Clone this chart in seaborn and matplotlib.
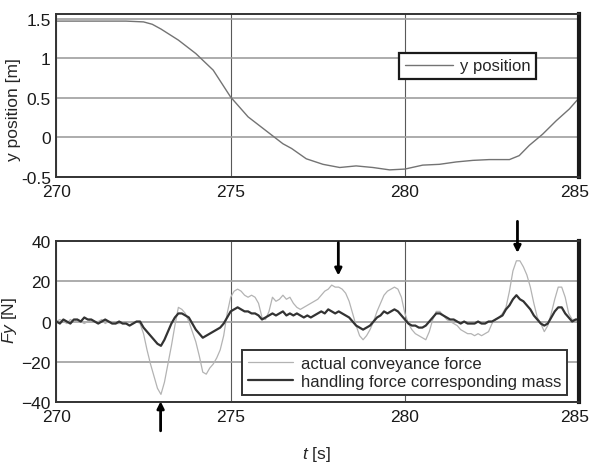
import numpy as np
import pandas as pd
import matplotlib
matplotlib.use("Agg")
import matplotlib.pyplot as plt
from matplotlib.transforms import ScaledTranslation
import seaborn as sns

# y position of the carried load [m]
pos_t = [270, 271, 272, 272.5, 272.75, 273, 273.5, 274, 274.5, 275, 275.5, 276,
         276.5, 276.75, 277.17, 277.65, 278.13, 278.6, 279.08, 279.56, 280,
         280.51, 280.99, 281.47, 281.95, 282.42, 283, 283.28, 283.57, 283.95,
         284.34, 284.72, 285]
pos_y = [1.47, 1.47, 1.47, 1.46, 1.43, 1.37, 1.23, 1.06, 0.85, 0.51, 0.26, 0.09,
         -0.08, -0.14, -0.27, -0.34, -0.38, -0.36, -0.38, -0.41, -0.40,
         -0.35, -0.34, -0.31, -0.29, -0.28, -0.28, -0.23, -0.10, 0.04,
         0.21, 0.36, 0.50]

# forces sampled every 0.1 s from 270 to 285 s
force_t = np.linspace(270, 285, 151)
actual_force = [
    0, 1, 0, -1, 1, 0, 1, 0, -1, 0,
    1, 0, 0, 1, -1, 0, 0, -1, -1, 0,
    -1, 0, -1, 0, -1, -6, -14, -21, -27, -33,
    -36, -30, -21, -12, -2, 7, 6, 4, 0, -5,
    -10, -17, -25, -26, -23, -21, -18, -14, -7, 4,
    12, 15, 16, 15, 13, 12, 13, 12, 9, 2,
    1, 5, 12, 10, 11, 13, 11, 12, 9, 7,
    6, 7, 8, 9, 10, 11, 13, 15, 16, 18,
    17, 17, 16, 14, 10, 4, -2, -7, -9, -7,
    -4, 0, 5, 9, 13, 15, 16, 17, 16, 12,
    4, -1, -4, -6, -7, -8, -9, -5, 1, 5,
    5, 3, 1, 0, -1, -2, -4, -5, -6, -6,
    -7, -6, -7, -6, -5, -1, 1, 2, 4, 7,
    15, 25, 30, 30, 27, 23, 17, 9, 2, -1,
    -5, -2, 4, 11, 17, 17, 12, 4, 1, 1,
    1]
handling_force = [
    0, -1, 1, 0, -1, 1, 1, 0, 2, 1,
    1, 0, -1, 0, 1, 0, -1, -1, 0, -1,
    -1, -2, -1, 0, 0, -3, -5, -7, -9, -11,
    -12, -9, -5, -1, 2, 4, 4, 3, 2, -1,
    -4, -6, -8, -7, -6, -5, -4, -3, -1, 2,
    5, 6, 7, 6, 5, 5, 4, 4, 3, 1,
    2, 3, 4, 3, 4, 5, 3, 4, 3, 4,
    3, 2, 3, 2, 3, 4, 5, 4, 6, 5,
    4, 5, 4, 3, 2, 0, -2, -3, -4, -3,
    -2, 0, 2, 3, 5, 4, 5, 6, 5, 3,
    1, -1, -2, -2, -3, -3, -2, 0, 2, 4,
    4, 3, 2, 1, 1, 0, -1, 0, -1, -1,
    -1, 0, -1, -1, 0, 0, 1, 2, 3, 6,
    8, 11, 13, 11, 10, 8, 6, 3, 1, -1,
    -2, -1, 2, 5, 7, 7, 4, 2, 0, 1,
    1]

# arrows marking the force peaks: (t, tail, tip)
arrows = [(272.99, -54, -39.4), (278.09, 39, 22.7), (283.23, 49.5, 33.9)]

sns.set_theme(style="white")
plt.rcParams["font.family"] = ["Liberation Sans", "DejaVu Sans"]
plt.rcParams["mathtext.fontset"] = "custom"
plt.rcParams["mathtext.it"] = "Liberation Sans:italic"
plt.rcParams["mathtext.rm"] = "Liberation Sans"

fig = plt.figure(figsize=(5.9, 4.64), dpi=100)
ax1 = fig.add_axes([0.0956, 0.6164, 0.886, 0.3513])
ax2 = fig.add_axes([0.0956, 0.1304, 0.886, 0.349])

pos = pd.DataFrame({"t": pos_t, "y": pos_y})
sns.lineplot(data=pos, x="t", y="y", ax=ax1, color="0.45", lw=1.0,
             label="y position")

forces = pd.DataFrame({"t": force_t, "actual": actual_force,
                       "handling": handling_force})
sns.lineplot(data=forces, x="t", y="actual", ax=ax2, color="0.7", lw=0.9,
             label="actual conveyance force")
sns.lineplot(data=forces, x="t", y="handling", ax=ax2, color="0.2", lw=1.6,
             label="handling force corresponding mass")

ax1.set_ylim(-0.5, 1.56)
ax1.set_yticks([-0.5, 0, 0.5, 1, 1.5])
ax1.set_yticklabels(["-0.5", "0", "0.5", "1", "1.5"])
ax1.set_ylabel("y position [m]", fontsize=12.5)
ax1.yaxis.set_label_coords(-0.068, 0.42)
ax1.set_xlabel("")
ax2.set_ylim(-40, 40)
ax2.set_yticks([-40, -20, 0, 20, 40])
ax2.set_ylabel("$Fy$ [N]", fontsize=12.5)
ax2.yaxis.set_label_coords(-0.072, 0.51)
ax2.set_xlabel("$t$ [s]", fontsize=12.5)
ax2.xaxis.set_label_coords(0.498, -0.255)

for ax in (ax1, ax2):
    ax.set_xlim(270, 285)
    ax.set_xticks([270, 275, 280, 285])
    ax.tick_params(length=0, labelsize=12.5, colors="0.1")
    ax.tick_params(axis="x", pad=5)
    ax.tick_params(axis="y", pad=4)
    ax.xaxis.grid(True, color="0.35", lw=0.8)
    ax.yaxis.grid(True, color="0.62", lw=1.2)
    ax.set_axisbelow(True)
    for side in ("top", "left", "bottom"):
        ax.spines[side].set_color("0.2")
        ax.spines[side].set_linewidth(1.4)
    ax.spines["right"].set_color("0.1")
    ax.spines["right"].set_linewidth(3)
    # the last tick label sits a little inside the right edge
    last = ax.get_xticklabels()[-1]
    last.set_transform(last.get_transform()
                       + ScaledTranslation(-3 / 72, 0, fig.dpi_scale_trans))

leg1 = ax1.legend(loc="lower left", bbox_to_anchor=(0.655, 0.60),
                  borderaxespad=0, fontsize=12, frameon=True, fancybox=False,
                  edgecolor="0.1", framealpha=1, handlelength=2.9,
                  handletextpad=0.4, borderpad=0.35)
leg1.get_frame().set_linewidth(1.6)
leg2 = ax2.legend(loc="lower right", bbox_to_anchor=(0.977, 0.049),
                  borderaxespad=0, fontsize=12, frameon=True, fancybox=False,
                  edgecolor="0.2", framealpha=1, handlelength=2.7,
                  handletextpad=0.5, borderpad=0.35, labelspacing=0.15)
leg2.get_frame().set_linewidth(1.4)

for t, tail, tip in arrows:
    ax2.annotate("", xy=(t, tip), xytext=(t, tail), annotation_clip=False,
                 arrowprops=dict(arrowstyle="-|>", color="black", lw=2,
                                 mutation_scale=10, shrinkA=0, shrinkB=0))

fig.savefig("out.png", dpi=100)
